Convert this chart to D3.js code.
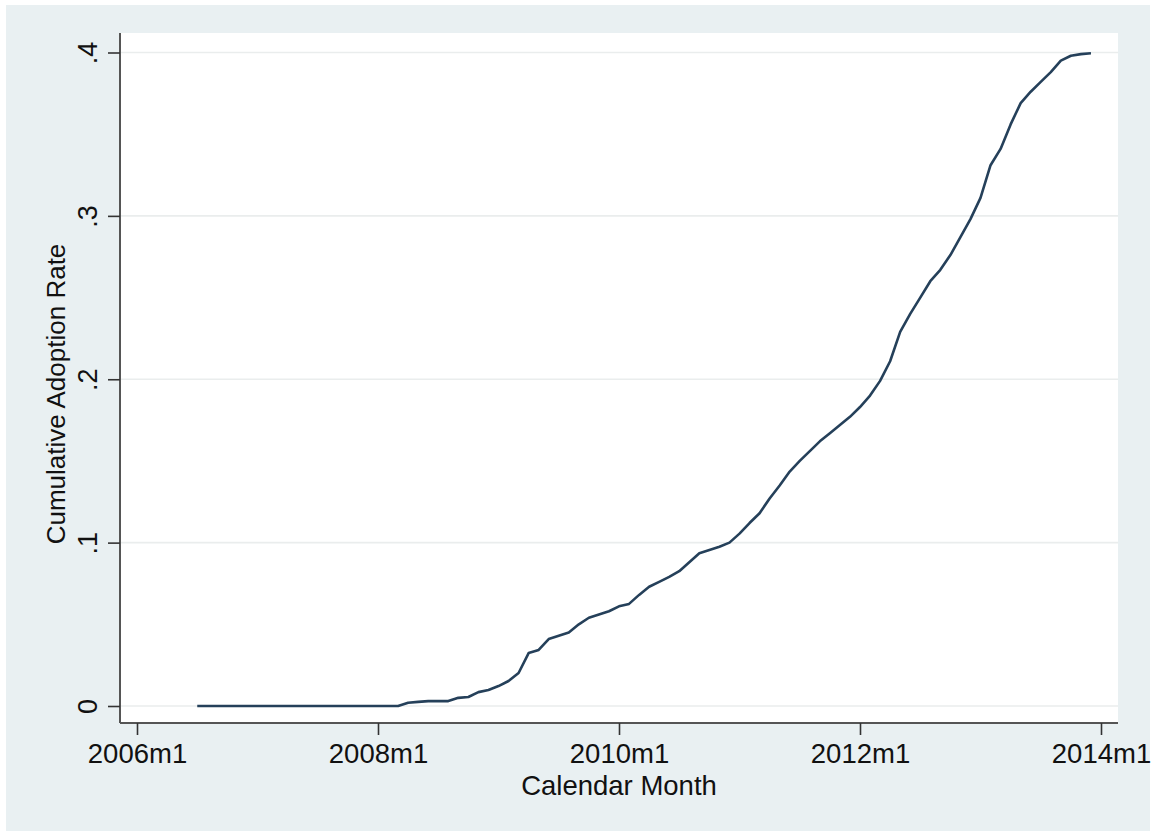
<!DOCTYPE html>
<html>
<head>
<meta charset="utf-8">
<script src="https://cdn.jsdelivr.net/npm/d3@7"></script>
<style>
	body { margin: 0; background: #ffffff; }
	text { font-family: "Liberation Sans", Arial, Helvetica, sans-serif; fill: #111; }
</style>
</head>
<body>
<div id="chart"></div>
<script>
// first month of the series and monthly values (2006m7 .. 2013m12)
var startYear = 2006
var startMonth = 7
var rates = [
	0, 0, 0, 0, 0, 0,                                   // 2006m7-m12
	0, 0, 0, 0, 0, 0, 0, 0, 0, 0, 0, 0,                 // 2007
	0, 0, 0, 0.002, 0.0025, 0.003, 0.003, 0.003, 0.005, 0.0055, 0.0085, 0.0098,   // 2008
	0.0122, 0.0153, 0.0202, 0.0324, 0.0343, 0.041, 0.043, 0.045, 0.050, 0.054, 0.056, 0.058,  // 2009
	0.061, 0.0625, 0.068, 0.073, 0.076, 0.079, 0.0825, 0.088, 0.0935, 0.0955, 0.0975, 0.100, // 2010
	0.1055, 0.112, 0.118, 0.127, 0.135, 0.1435, 0.150, 0.156, 0.162, 0.167, 0.172, 0.177,   // 2011
	0.183, 0.190, 0.199, 0.211, 0.229, 0.240, 0.250, 0.260, 0.267, 0.276, 0.287, 0.298,     // 2012
	0.311, 0.331, 0.341, 0.356, 0.369, 0.376, 0.382, 0.388, 0.395, 0.398, 0.399, 0.3995     // 2013
]
var xTicks = [0, 24, 48, 72, 96]   // months since 2006m1
var xTickLabels = ["2006m1", "2008m1", "2010m1", "2012m1", "2014m1"]
var yTicks = [0, 0.1, 0.2, 0.3, 0.4]
var yTickLabels = ["0", ".1", ".2", ".3", ".4"]

var data = rates.map(function (v, i) {
	return { m: (startYear - 2006) * 12 + (startMonth - 1) + i, v: v }
})

var width = 1154
var height = 831

var svg = d3.select("#chart")
	.append("svg")
	.attr("width", width)
	.attr("height", height)

// outer graph region
svg.append("rect")
	.attr("x", 6).attr("y", 5)
	.attr("width", 1144).attr("height", 826)
	.style("fill", "#e9f0f2")

// plot region
var plotL = 120, plotR = 1118, plotT = 33, plotB = 723
svg.append("rect")
	.attr("x", plotL).attr("y", plotT)
	.attr("width", plotR - plotL).attr("height", plotB - plotT)
	.style("fill", "#ffffff")

var x = d3.scaleLinear().domain([0, 96]).range([137, 1101])
var y = d3.scaleLinear().domain([0, 0.4]).range([706, 52.5])

// grid lines
svg.append("g")
	.selectAll("line")
	.data(yTicks)
	.enter().append("line")
	.attr("x1", plotL).attr("x2", plotR)
	.attr("y1", function (d) { return y(d) })
	.attr("y2", function (d) { return y(d) })
	.style("stroke", "#eaeded")
	.style("stroke-width", 1.6)

// y axis
var yAxis = svg.append("g")
	.attr("transform", "translate(" + plotL + ",0)")
	.call(d3.axisLeft(y).tickValues(yTicks).tickSize(12).tickFormat(function (d, i) { return yTickLabels[i] }))
yAxis.select(".domain").attr("d", "M0," + plotT + "V" + plotB).style("stroke", "#555").style("stroke-width", 2)
yAxis.selectAll(".tick line").style("stroke", "#333").style("stroke-width", 1.6)
yAxis.selectAll(".tick text")
	.attr("x", null).attr("dy", null)
	.attr("transform", "translate(-23,0) rotate(-90)")
	.attr("text-anchor", "middle")
	.style("font-size", "27px")
	.style("fill", "#111")

// x axis
var xAxis = svg.append("g")
	.attr("transform", "translate(0," + plotB + ")")
	.call(d3.axisBottom(x).tickValues(xTicks).tickSize(12).tickFormat(function (d, i) { return xTickLabels[i] }))
xAxis.select(".domain").attr("d", "M" + plotL + ",0H" + plotR).style("stroke", "#555").style("stroke-width", 2)
xAxis.selectAll(".tick line").style("stroke", "#333").style("stroke-width", 1.6)
xAxis.selectAll(".tick text")
	.attr("y", 40).attr("dy", null)
	.style("font-size", "27.5px")
	.style("fill", "#111")

// axis titles
svg.append("text")
	.attr("x", 619).attr("y", 795)
	.attr("text-anchor", "middle")
	.style("font-size", "27.5px")
	.text("Calendar Month")

svg.append("text")
	.attr("transform", "translate(65,394) rotate(-90)")
	.attr("text-anchor", "middle")
	.style("font-size", "26px")
	.text("Cumulative Adoption Rate")

// the line
var line = d3.line()
	.x(function (d) { return x(d.m) })
	.y(function (d) { return y(d.v) })

svg.append("path")
	.datum(data)
	.attr("d", line)
	.style("fill", "none")
	.style("stroke", "#25405a")
	.style("stroke-width", 2.6)
	.style("stroke-linejoin", "round")
</script>
</body>
</html>
